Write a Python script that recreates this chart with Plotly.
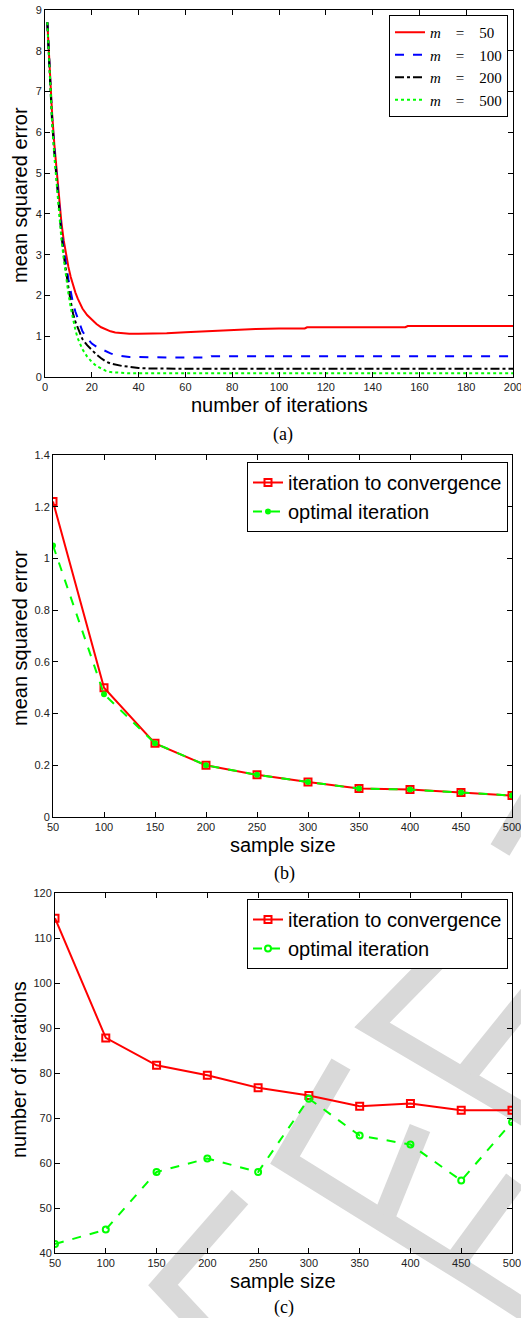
import plotly.graph_objects as go

W, H = 521, 1318

# ---------------- data: panel (a) ----------------
iters = [1, 2, 3, 4, 5, 6, 7, 8, 9, 10, 11, 12, 13, 14, 15, 16, 18, 20, 22, 24, 26, 28, 30,
         33, 36, 40, 45, 52, 60, 70, 71, 80, 90, 100, 111, 112, 130, 154, 155, 180, 200]
mse_m50 = [8.7, 7.5, 6.5, 5.7, 5.0, 4.35, 3.8, 3.35, 3.0, 2.7, 2.45, 2.25, 2.07, 1.92, 1.8, 1.68,
           1.52, 1.4, 1.3, 1.22, 1.16, 1.12, 1.09, 1.07, 1.06, 1.06, 1.06, 1.07, 1.1, 1.13, 1.13,
           1.16, 1.18, 1.19, 1.19, 1.22, 1.22, 1.22, 1.25, 1.25, 1.25]
mse_m100 = [8.7, 7.4, 6.4, 5.6, 4.9, 4.15, 3.6, 3.15, 2.75, 2.4, 2.1, 1.8, 1.6, 1.42, 1.25, 1.12,
            0.95, 0.82, 0.74, 0.68, 0.63, 0.58, 0.54, 0.51, 0.49, 0.49, 0.48, 0.48, 0.48, 0.48,
            0.51, 0.51, 0.51, 0.51, 0.51, 0.51, 0.51, 0.51, 0.51, 0.51, 0.51]
mse_m200 = [8.7, 7.3, 6.3, 5.5, 4.8, 4.1, 3.5, 3.0, 2.55, 2.2, 1.85, 1.55, 1.35, 1.2, 1.05, 0.93,
            0.78, 0.66, 0.55, 0.46, 0.38, 0.33, 0.3, 0.27, 0.25, 0.22, 0.21, 0.2, 0.2, 0.2, 0.2,
            0.2, 0.2, 0.2, 0.2, 0.2, 0.2, 0.2, 0.2, 0.2, 0.2]
mse_m500 = [8.7, 7.3, 6.3, 5.4, 4.7, 4.0, 3.4, 2.9, 2.45, 2.05, 1.7, 1.4, 1.15, 0.95, 0.8, 0.68,
            0.5, 0.37, 0.27, 0.2, 0.15, 0.12, 0.11, 0.1, 0.09, 0.09, 0.09, 0.09, 0.09, 0.09, 0.09,
            0.09, 0.09, 0.09, 0.09, 0.09, 0.09, 0.09, 0.09, 0.09, 0.09]
labels_a = ["<i>m</i>\u2003=\u200350", "<i>m</i>\u2003=\u2003100",
            "<i>m</i>\u2003=\u2003200", "<i>m</i>\u2003=\u2003500"]

# ---------------- data: panels (b) and (c) ----------------
sample_size = [50, 100, 150, 200, 250, 300, 350, 400, 450, 500]
mse_conv = [1.22, 0.50, 0.285, 0.20, 0.163, 0.135, 0.110, 0.106, 0.095, 0.083]
mse_opt = [1.05, 0.475, 0.285, 0.20, 0.163, 0.135, 0.110, 0.106, 0.095, 0.083]
iter_conv = [114.4, 87.8, 81.7, 79.5, 76.7, 75.0, 72.6, 73.2, 71.7, 71.7]
iter_opt = [42.0, 45.2, 58.0, 61.0, 58.0, 74.3, 66.1, 64.1, 56.1, 69.1]
labels_bc = ["iteration to convergence", "optimal iteration"]

RED = "rgb(255,0,0)"
BLUE = "rgb(0,0,255)"
BLACK = "rgb(0,0,0)"
GREEN = "rgb(0,255,0)"

fig = go.Figure()

# panel (a)
for y, name, col, dash in [(mse_m50, labels_a[0], RED, "solid"),
                           (mse_m100, labels_a[1], BLUE, "dash"),
                           (mse_m200, labels_a[2], BLACK, "dashdot"),
                           (mse_m500, labels_a[3], GREEN, "dot")]:
    fig.add_trace(go.Scatter(x=iters, y=y, mode="lines", name=name,
                             line=dict(color=col, width=2, dash=dash),
                             xaxis="x", yaxis="y", legend="legend"))

# panel (b)
fig.add_trace(go.Scatter(x=sample_size, y=mse_conv, mode="lines+markers", name=labels_bc[0],
                         line=dict(color=RED, width=2),
                         marker=dict(symbol="square-open", size=7, color=RED, line=dict(width=2)),
                         xaxis="x2", yaxis="y2", legend="legend2"))
fig.add_trace(go.Scatter(x=sample_size, y=mse_opt, mode="lines+markers", name=labels_bc[1],
                         line=dict(color=GREEN, width=2, dash="dash"),
                         marker=dict(symbol="circle", size=6, color=GREEN),
                         xaxis="x2", yaxis="y2", legend="legend2"))

# panel (c)
fig.add_trace(go.Scatter(x=sample_size, y=iter_conv, mode="lines+markers", name=labels_bc[0],
                         line=dict(color=RED, width=2),
                         marker=dict(symbol="square-open", size=7, color=RED, line=dict(width=2)),
                         xaxis="x3", yaxis="y3", legend="legend3"))
fig.add_trace(go.Scatter(x=sample_size, y=iter_opt, mode="lines+markers", name=labels_bc[1],
                         line=dict(color=GREEN, width=2, dash="dash"),
                         marker=dict(symbol="circle-open", size=6, color=GREEN, line=dict(width=2)),
                         xaxis="x3", yaxis="y3", legend="legend3"))


def px_x(x):
    return x / W


def px_y(y):
    return 1 - y / H


tickfont = dict(family="Liberation Sans, Arial, sans-serif", size=11, color="#222")
axis_common = dict(showline=True, linecolor="black", linewidth=1, mirror="ticks",
                   ticks="inside", ticklen=5, tickcolor="black", showgrid=False,
                   zeroline=False, tickfont=tickfont, ticklabeloverflow="allow",
                   automargin=False)

fig.update_layout(
    width=W, height=H,
    margin=dict(l=0, r=0, t=0, b=0, autoexpand=False),
    paper_bgcolor="white", plot_bgcolor="rgba(0,0,0,0)",
    xaxis=dict(domain=[px_x(45), px_x(513)], range=[0, 200], tickvals=list(range(0, 201, 20)),
               anchor="y", **axis_common),
    yaxis=dict(domain=[px_y(377), px_y(10)], range=[0, 9], tickvals=list(range(0, 10)),
               anchor="x", **axis_common),
    xaxis2=dict(domain=[px_x(53), px_x(512)], range=[50, 500], tickvals=sample_size,
                anchor="y2", **axis_common),
    yaxis2=dict(domain=[px_y(817), px_y(455)], range=[0, 1.4],
                tickvals=[0, 0.2, 0.4, 0.6, 0.8, 1.0, 1.2, 1.4],
                ticktext=["0", "0.2", "0.4", "0.6", "0.8", "1", "1.2", "1.4"],
                anchor="x2", **axis_common),
    xaxis3=dict(domain=[px_x(55), px_x(512)], range=[50, 500], tickvals=sample_size,
                anchor="y3", **axis_common),
    yaxis3=dict(domain=[px_y(1253), px_y(893)], range=[40, 120],
                tickvals=list(range(40, 121, 10)), anchor="x3", **axis_common),
    legend=dict(x=px_x(508), y=px_y(15), xanchor="right", yanchor="top",
                bgcolor="white", bordercolor="black", borderwidth=1,
                font=dict(family="Liberation Serif, Times New Roman, serif", size=15, color="black"),
                tracegroupgap=0, itemwidth=30),
    legend2=dict(x=px_x(508), y=px_y(462), xanchor="right", yanchor="top",
                 bgcolor="white", bordercolor="black", borderwidth=1,
                 font=dict(family="Liberation Sans, Arial, sans-serif", size=20, color="black"),
                 tracegroupgap=0, itemwidth=30),
    legend3=dict(x=px_x(508), y=px_y(899), xanchor="right", yanchor="top",
                 bgcolor="white", bordercolor="black", borderwidth=1,
                 font=dict(family="Liberation Sans, Arial, sans-serif", size=20, color="black"),
                 tracegroupgap=0, itemwidth=30),
)

title_font = dict(family="Liberation Sans, Arial, sans-serif", size=20, color="black")
cap_font = dict(family="Liberation Serif, Times New Roman, serif", size=18, color="black")
annots = [
    ("number of iterations", 279, 405, 0, title_font),
    ("mean squared error", 20, 195, -90, title_font),
    ("(a)", 283, 435, 0, cap_font),
    ("sample size", 283, 845, 0, title_font),
    ("mean squared error", 20, 638, -90, title_font),
    ("(b)", 284, 873, 0, cap_font),
    ("sample size", 283, 1281, 0, title_font),
    ("number of iterations", 19, 1070, -90, title_font),
    ("(c)", 284, 1307, 0, cap_font),
]
for text, x, y, ang, f in annots:
    fig.add_annotation(text=text, x=px_x(x), y=px_y(y), xref="paper", yref="paper",
                       showarrow=False, textangle=ang, font=f,
                       xanchor="center", yanchor="middle")

# light-grey watermark bands (page decoration, pixel positions of the scan)
wm = [
    [(240, 1197), (163, 1285), (205, 1330)],
    [(480, 915), (372, 1025), (530, 1118)],
    [(468, 1072), (530, 995)],
    [(341, 1064), (285, 1160), (470, 1275), (540, 1320)],
    [(385, 1215), (420, 1128)],
    [(455, 1262), (515, 1180)],
    [(500, 850), (530, 800)],
]
for pts in wm:
    d = "M " + " L ".join(f"{px_x(x):.5f},{px_y(y):.5f}" for x, y in pts)
    fig.add_shape(type="path", path=d, xref="paper", yref="paper", layer="below",
                  line=dict(color="#d9d9d9", width=22))

fig.write_html(
    "out.html",
    config={"displayModeBar": False},
    post_script="document.body.style.margin='0';document.body.style.padding='0';"
                "document.body.style.overflow='hidden';"
                "document.documentElement.style.overflow='hidden';",
)
